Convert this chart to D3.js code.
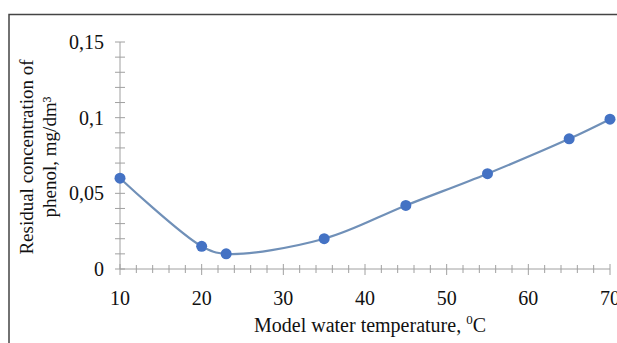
<!DOCTYPE html>
<html>
<head>
<meta charset="utf-8">
<script src="https://cdn.jsdelivr.net/npm/d3@7"></script>
<style>
  html, body { margin: 0; padding: 0; background: #fff; overflow: hidden; }
  svg { display: block; font-family: "Liberation Serif", "DejaVu Serif", serif; }
</style>
</head>
<body>
<div id="chart"></div>
<script>
// data
const temperature = [10, 20, 23, 35, 45, 55, 65, 70];
const phenol = [0.06, 0.015, 0.01, 0.02, 0.042, 0.063, 0.086, 0.099];
const xTicks = [10, 20, 30, 40, 50, 60, 70];
const yTicks = [0, 0.05, 0.1, 0.15];
const yTitle = ['Residual concentration of', 'phenol, mg/dm³'];

const W = 617, H = 343;
const margin = { left: 120, right: 7, top: 42, bottom: 74 };

const svg = d3.select('#chart').append('svg')
  .attr('width', W)
  .attr('height', H);

// chart frame (runs off right and bottom)
svg.append('path')
  .attr('d', `M9,${H + 5} L9,14.5 L${W + 5},14.5`)
  .attr('fill', 'none')
  .attr('stroke', '#444')
  .attr('stroke-width', 1.5);

const x = d3.scaleLinear().domain([10, 70]).range([margin.left, W - margin.right]);
const y = d3.scaleLinear().domain([0, 0.15]).range([H - margin.bottom, margin.top]);

const axisColor = '#a0a0a0';
const fmt = d => d3.format('~g')(d).replace('.', ',');

// x axis
const xAxis = svg.append('g').attr('transform', `translate(0,${y(0)})`);
xAxis.append('line')
  .attr('x1', x(10)).attr('x2', x(70))
  .attr('stroke', axisColor);
xAxis.selectAll('.minor')
  .data(d3.range(10, 70.1, 2))
  .enter().append('line')
  .attr('x1', d => x(d)).attr('x2', d => x(d))
  .attr('y1', d => d % 10 === 0 ? -5 : -4)
  .attr('y2', d => d % 10 === 0 ? 6 : 4)
  .attr('stroke', axisColor);
xAxis.selectAll('text')
  .data(xTicks)
  .enter().append('text')
  .attr('x', d => x(d))
  .attr('y', 36)
  .attr('text-anchor', 'middle')
  .attr('font-size', 20)
  .attr('fill', '#111')
  .text(d => d);

// y axis
const yAxis = svg.append('g').attr('transform', `translate(${x(10)},0)`);
yAxis.append('line')
  .attr('y1', y(0)).attr('y2', y(0.15))
  .attr('stroke', axisColor);
yAxis.selectAll('.minor')
  .data(d3.range(0, 16).map(i => i / 100))
  .enter().append('line')
  .attr('x1', -5).attr('x2', 5)
  .attr('y1', d => y(d)).attr('y2', d => y(d))
  .attr('stroke', axisColor);
yAxis.selectAll('text')
  .data(yTicks)
  .enter().append('text')
  .attr('x', -16)
  .attr('y', d => y(d) + 7)
  .attr('text-anchor', 'end')
  .attr('font-size', 20)
  .attr('fill', '#111')
  .text(fmt);

// axis titles
const xt = svg.append('text')
  .attr('x', 370)
  .attr('y', 332)
  .attr('text-anchor', 'middle')
  .attr('font-size', 20)
  .attr('fill', '#111');
xt.append('tspan').text('Model water temperature, ');
xt.append('tspan').attr('font-size', 13).attr('dy', -8).text('0');
xt.append('tspan').attr('dy', 8).text('C');

svg.append('text')
  .attr('transform', 'translate(33,157) rotate(-90)')
  .attr('text-anchor', 'middle')
  .attr('font-size', 19)
  .attr('fill', '#111')
  .selectAll('tspan')
  .data(yTitle)
  .enter().append('tspan')
  .attr('x', 0)
  .attr('dy', (d, i) => i === 0 ? 0 : 23)
  .text(d => d);

// series
const pts = temperature.map((t, i) => [t, phenol[i]]);
const line = d3.line()
  .x(d => x(d[0]))
  .y(d => y(d[1]))
  .curve(d3.curveCatmullRom.alpha(0.5));

svg.append('path')
  .datum(pts)
  .attr('fill', 'none')
  .attr('stroke', '#7090b8')
  .attr('stroke-width', 2.2)
  .attr('d', line);

svg.selectAll('.dot')
  .data(pts)
  .enter().append('circle')
  .attr('class', 'dot')
  .attr('cx', d => x(d[0]))
  .attr('cy', d => y(d[1]))
  .attr('r', 5.5)
  .attr('fill', '#4472c4');
</script>
</body>
</html>
